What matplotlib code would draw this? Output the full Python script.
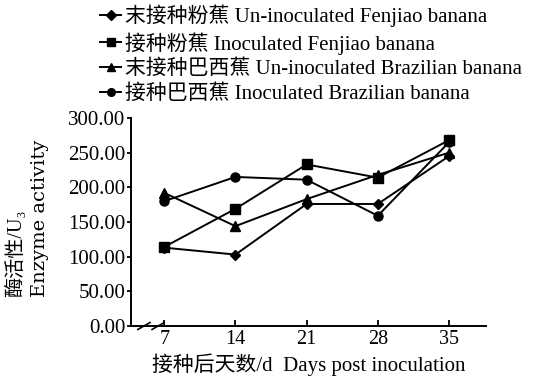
import matplotlib
matplotlib.use("Agg")
import matplotlib.pyplot as plt

plt.rcParams['font.family'] = ['Liberation Serif', 'Noto Sans CJK SC', 'DejaVu Serif']

days = [7, 14, 21, 28, 35]
uninoc_fenjiao = [113, 103, 176, 176, 245]
inoc_fenjiao = [114, 169, 233, 214, 268]
uninoc_brazil = [192, 144, 183, 218, 250]
inoc_brazil = [180, 215, 211, 159, 265]

labels = ["末接种粉蕉 Un-inoculated Fenjiao banana",
          "接种粉蕉 Inoculated Fenjiao banana",
          "末接种巴西蕉 Un-inoculated Brazilian banana",
          "接种巴西蕉 Inoculated Brazilian banana"]
yticks = [0, 50, 100, 150, 200, 250, 300]

fig = plt.figure(figsize=(5.4, 3.8), dpi=100)
ax = fig.add_axes([131/540, 1-326/380, (486-131)/540, (326-118)/380])

series = [uninoc_fenjiao, inoc_fenjiao, uninoc_brazil, inoc_brazil]
markers = ['D', 's', '^', 'o']
msizes = [5.5, 7, 7.5, 6.5]
handles = []
for s, m, ms, lab in zip(series, markers, msizes, labels):
    h, = ax.plot(days, s, color='black', marker=m, markersize=ms, lw=1.4,
                 label=lab, clip_on=False)
    handles.append(h)

ax.set_xlim(3.73, 38.64)
ax.set_ylim(0, 300)
ax.set_xticks(days)
ax.set_yticks(yticks)
ax.set_yticklabels([f"{v:.2f}" for v in yticks], fontsize=15)
ax.set_xticklabels([str(d) for d in days], fontsize=14.5)
ax.spines['top'].set_visible(False)
ax.spines['right'].set_visible(False)
ax.spines['left'].set_linewidth(1.4)
ax.spines['bottom'].set_linewidth(1.4)
ax.tick_params(axis='x', direction='in', length=4, width=1.3, pad=3)
ax.tick_params(axis='y', direction='out', length=3, width=1.3, pad=1)

# axis break marks
for dx in (0, 1.4):
    ax.plot([5.0 + dx - 0.6, 5.0 + dx + 0.6], [-5, 5], color='black', lw=1.2,
            clip_on=False)

ax.set_xlabel("接种后天数/d  Days post inoculation", fontsize=15, labelpad=3)
fig.text(16/540, 1-297/380, "酶活性/U₃", rotation=90, ha='center', va='bottom', fontsize=14.5)
fig.text(40/540, 1-297/380, "Enzyme activity", rotation=90, ha='center', va='bottom',
         fontsize=14, family=['DejaVu Serif'])

leg = fig.legend(handles=handles, labels=labels, loc='upper left',
                 bbox_to_anchor=(92/540, 1.0 + 4/380), frameon=False, fontsize=15,
                 handlelength=1.0, handletextpad=0.2, labelspacing=0.25,
                 borderaxespad=0.0)
for h in leg.legend_handles:
    h.set_markersize(5.5)

fig.savefig("out.png", dpi=100)
